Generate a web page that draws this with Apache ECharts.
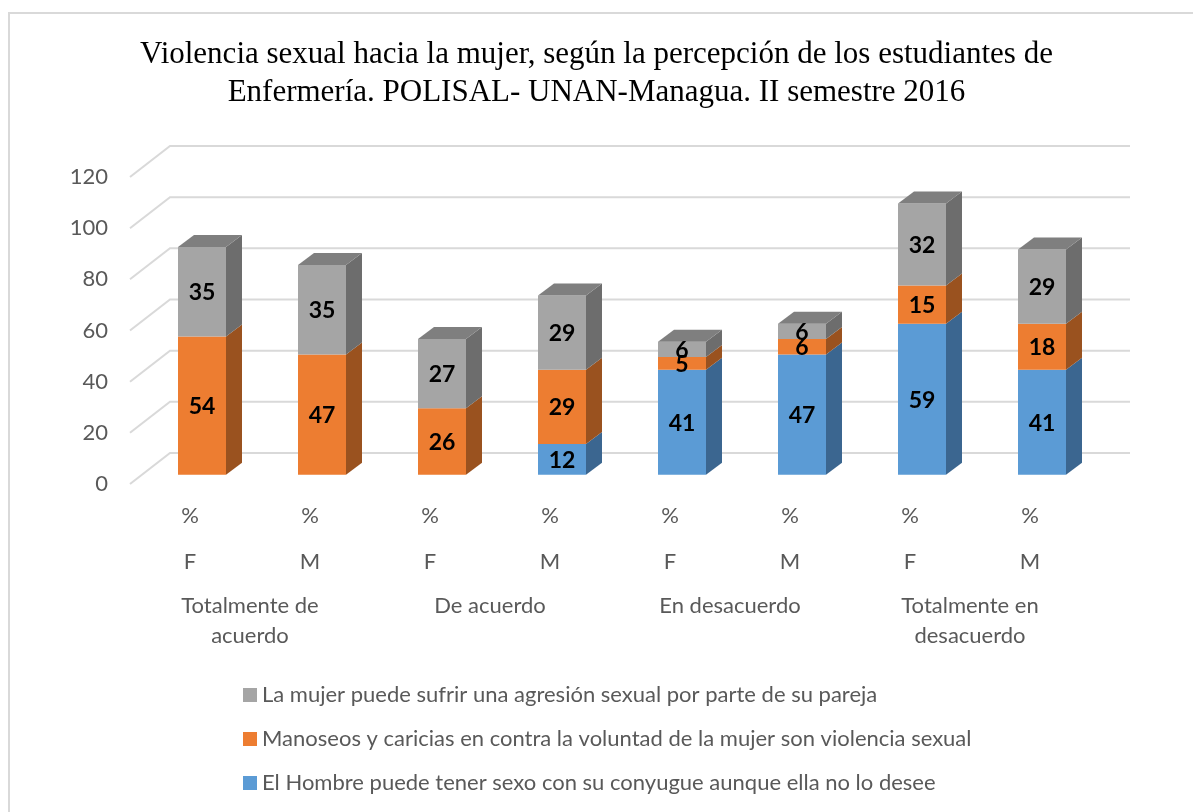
<!DOCTYPE html>
<html>
<head>
<meta charset="utf-8">
<script src="https://cdn.jsdelivr.net/npm/echarts@6/dist/echarts.min.js"></script>
<style>
  html, body { margin: 0; padding: 0; background: #fff; }
  #main { width: 1193px; height: 812px; }
</style>
</head>
<body>
<div id="main"></div>
<script>
// data
var barLabels = ['%\nF', '%\nM', '%\nF', '%\nM', '%\nF', '%\nM', '%\nF', '%\nM'];
var groupLabels = ['Totalmente de\nacuerdo', 'De acuerdo', 'En desacuerdo', 'Totalmente en\ndesacuerdo'];
var seriesNames = [
    'El Hombre puede tener sexo con su conyugue aunque ella no lo desee',
    'Manoseos y caricias en contra la voluntad de la mujer son violencia sexual',
    'La mujer puede sufrir una agresión sexual por parte de su pareja'
];
var hombre   = [0, 0, 0, 12, 41, 47, 59, 41];
var manoseos = [54, 47, 26, 29, 5, 6, 15, 18];
var agresion = [35, 35, 27, 29, 6, 6, 32, 29];
var yTicks = [0, 20, 40, 60, 80, 100, 120];

var front = ['#5B9BD5', '#ED7D31', '#A5A5A5'];
var side  = ['#3B6690', '#9A521F', '#6D6D6D'];
var topC  = ['#4A7DAD', '#BF6427', '#7F7F7F'];

var stacks = [hombre, manoseos, agresion];
var totals = hombre.map(function (v, i) { return hombre[i] + manoseos[i] + agresion[i]; });

// build [category, base, top, value] rows per series
function buildRows(k) {
    var rows = [];
    for (var i = 0; i < barLabels.length; i++) {
        var base = 0;
        for (var j = 0; j < k; j++) base += stacks[j][i];
        rows.push([i, base, base + stacks[k][i], stacks[k][i]]);
    }
    return rows;
}

var myChart = echarts.init(document.getElementById('main'));

// depth of the floor (front plane -> back wall) and of each bar
var wallDx = 40, wallDy = -31;
var barShiftX = 12, barShiftY = -9.3;
var barW = 48, depthX = 16, depthY = -12;
var txt = { fontFamily: 'Lato', fontSize: 22, color: '#595959' };

function renderBar(k) {
    return function (params, api) {
        var val = api.value(3);
        if (!val) return null;
        var i = api.value(0);
        var p0 = api.coord([i, api.value(1)]);
        var p1 = api.coord([i, api.value(2)]);
        var x0 = p0[0] - barW / 2 + barShiftX, x1 = x0 + barW;
        var yb = p0[1] + barShiftY, yt = p1[1] + barShiftY;
        var children = [
            { type: 'polygon', shape: { points: [[x1, yb], [x1 + depthX, yb + depthY], [x1 + depthX, yt + depthY], [x1, yt]] },
              style: { fill: side[k] } },
            { type: 'rect', shape: { x: x0, y: yt, width: barW, height: yb - yt }, style: { fill: front[k] } }
        ];
        if (api.value(2) === totals[i]) {
            children.push({ type: 'polygon', shape: { points: [[x0, yt], [x0 + depthX, yt + depthY], [x1 + depthX, yt + depthY], [x1, yt]] },
                style: { fill: topC[k] } });
        }
        children.push({ type: 'text', z2: 100,
            style: { x: (x0 + x1) / 2, y: (yb + yt) / 2 + 1, text: String(val), align: 'center', verticalAlign: 'middle',
                     fill: '#000', font: 'bold 23px Lato' } });
        return { type: 'group', children: children };
    };
}

var series = [{
    type: 'custom',
    name: 'grid3d',
    coordinateSystem: 'cartesian2d',
    data: yTicks.map(function (v) { return [0, v]; }),
    encode: { x: 0, y: 1 },
    silent: true,
    z: 1,
    renderItem: function (params, api) {
        var y = api.coord([0, api.value(1)])[1];
        var x0 = params.coordSys.x;
        return { type: 'polyline',
            shape: { points: [[x0, y], [x0 + wallDx, y + wallDy], [x0 + params.coordSys.width + wallDx, y + wallDy]] },
            style: { stroke: '#D9D9D9', lineWidth: 2, fill: null } };
    }
}];
for (var k = 0; k < 3; k++) {
    series.push({
        type: 'custom',
        name: seriesNames[k],
        coordinateSystem: 'cartesian2d',
        itemStyle: { color: front[k] },
        data: buildRows(k),
        encode: { x: 0, y: [1, 2] },
        z: 2,
        renderItem: renderBar(k)
    });
}

var titleStyle = { fontFamily: 'Liberation Serif', fontSize: 31, fontWeight: 'normal', color: '#000' };

var option = {
    backgroundColor: '#fff',
    animation: false,
    title: [{
        text: 'Violencia sexual hacia la mujer, según la percepción de los estudiantes de',
        left: 'center', top: 39, padding: 0, textStyle: titleStyle
    }, {
        text: 'Enfermería. POLISAL- UNAN-Managua. II semestre 2016',
        left: 'center', top: 77, padding: 0, textStyle: titleStyle
    }],
    legend: {
        orient: 'vertical',
        left: 243,
        top: 684,
        padding: 0,
        itemGap: 22,
        itemWidth: 14,
        itemHeight: 14,
        icon: 'rect',
        data: [seriesNames[2], seriesNames[1], seriesNames[0]],
        textStyle: txt
    },
    grid: { left: 130, top: 177, width: 960, height: 307 },
    xAxis: [{
        type: 'category',
        data: barLabels,
        axisLine: { show: false },
        axisTick: { show: false },
        axisLabel: Object.assign({ margin: 9, lineHeight: 46 }, txt)
    }, {
        type: 'category',
        data: groupLabels,
        position: 'bottom',
        offset: 99,
        axisLine: { show: false },
        axisTick: { show: false },
        axisLabel: Object.assign({ margin: 8, lineHeight: 30 }, txt)
    }],
    yAxis: {
        type: 'value',
        min: 0,
        max: 120,
        interval: 20,
        axisLine: { show: false },
        axisTick: { show: false },
        splitLine: { show: false },
        axisLabel: Object.assign({ margin: 22 }, txt)
    },
    graphic: [{
        type: 'rect',
        shape: { x: 9, y: 13, width: 1200, height: 820 },
        style: { fill: null, stroke: '#D9D9D9', lineWidth: 2 },
        silent: true
    }],
    series: series
};

myChart.setOption(option);
</script>
</body>
</html>
